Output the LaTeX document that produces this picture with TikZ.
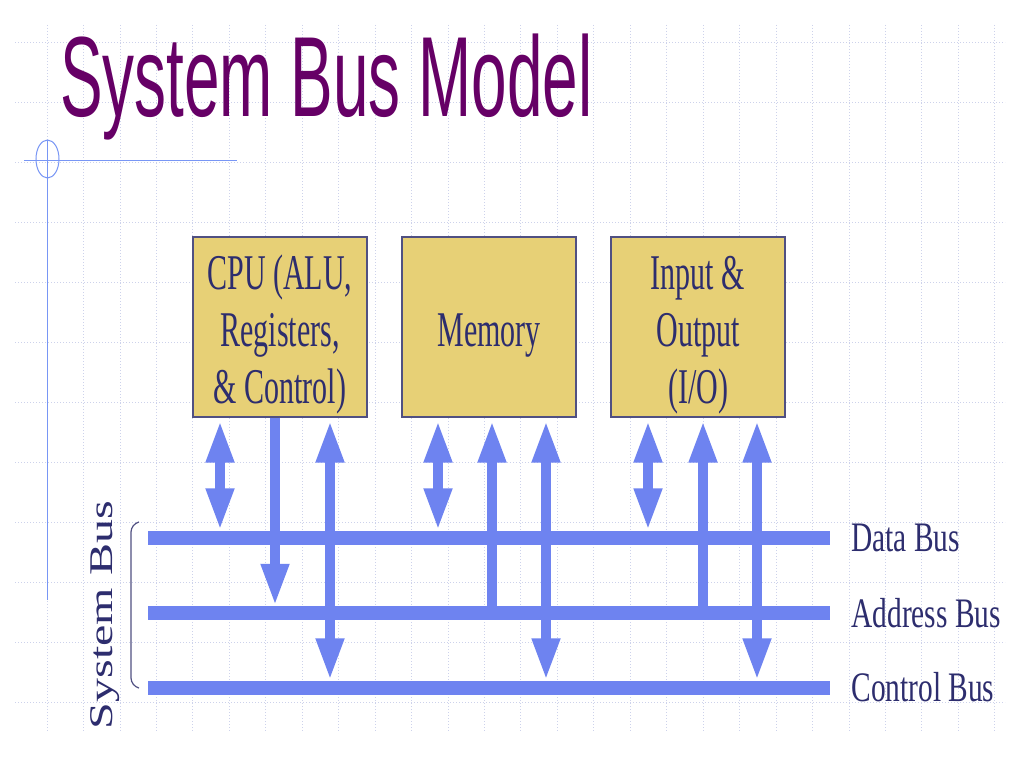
\documentclass[tikz,border=0pt]{standalone}
\usepackage{fontspec}
\usepackage{graphicx}
\usetikzlibrary{arrows.meta,positioning,calc}
\newfontfamily\titlefont[FakeStretch=0.56]{Liberation Sans}
\newfontfamily\boxfont[FakeStretch=0.60]{Liberation Serif}
\newfontfamily\busfont[FakeStretch=0.70]{Liberation Serif}
\newfontfamily\sidefont{Liberation Serif}
\definecolor{titlec}{RGB}{102,0,102}
\definecolor{boxfill}{RGB}{231,208,118}
\definecolor{boxline}{RGB}{80,80,130}
\definecolor{txtc}{RGB}{45,45,110}
\definecolor{busc}{RGB}{110,131,240}
\definecolor{decoc}{RGB}{120,150,245}
\definecolor{gridc}{RGB}{205,210,235}
\newcommand\unitlines[1]{\raisebox{-8pt}[\height][\depth]{\begin{tabular}{@{}c@{}}#1\end{tabular}}}

\begin{document}
\begin{tikzpicture}[
    x=1pt, y=-1pt,
    unit/.style={rectangle,draw=boxline,line width=1.2pt,fill=boxfill,minimum width=174pt,minimum height=180pt,
      align=center,text=txtc,inner sep=0pt,font=\boxfont\fontsize{50}{57}\selectfont},
    bus/.style={rectangle,fill=busc,inner sep=0pt,minimum width=682pt,minimum height=14pt},
    buslabel/.style={anchor=west,inner sep=0pt,text=txtc,font=\busfont\fontsize{42}{48}\selectfont},
    gridline/.style={draw=gridc,line width=0.8pt,dash pattern=on 1pt off 2pt},
    tip/.tip={Triangle[length=42pt,width=26pt]},
    link/.style={draw=busc,line width=10pt},
  ]
  \fill[white] (0,0) rectangle (1024,768);
  \useasboundingbox (0,0) rectangle (1024,768);

  % slide background grid
  \foreach \k in {0,...,26}
    \draw[gridline] (47+36.45*\k,25) -- (47+36.45*\k,732);
  \foreach \k in {0,...,11}
    \draw[gridline] (15,42+60*\k) -- (1005,42+60*\k);

  % slide decoration
  \draw[decoc,line width=1.5pt] (24,160.5) -- (237,160.5);
  \draw[decoc,line width=1.2pt] (47.5,140) -- (47.5,600);
  \draw[decoc,line width=1pt] (47.5,159) ellipse [x radius=11.5, y radius=19];

  \node[anchor=base west,inner sep=0pt,text=titlec,font=\titlefont\fontsize{114}{130}\selectfont] (title) at (60,116) {System Bus Model};

  % units
  \node[unit] (cpu) at (280,327) {\unitlines{CPU (ALU,\\Registers,\\\& Control)}};
  \node[unit] (mem) at (489,327) {\unitlines{Memory}};
  \node[unit] (io)  at (698,327) {\unitlines{Input \&\\Output\\(I/O)}};

  % buses
  \node[bus] (dbus) at (489,537.5) {};
  \node[bus] (abus) at (489,613) {};
  \node[bus] (cbus) at (489,687.5) {};
  \node[buslabel,right=21pt of dbus] (dlab) {Data Bus};
  \node[buslabel,right=21pt of abus] (alab) {Address Bus};
  \node[buslabel,right=21pt of cbus] (clab) {Control Bus};

  % system bus brace
  \draw[boxline,line width=1.2pt,rounded corners=8pt] (139,522) -- (131,524) -- (131,686) -- (139,688);
  \node[rotate=90,anchor=base,inner sep=0pt,text=txtc,font=\sidefont\fontsize{48}{54}\selectfont] (sysbus) at (112,615)
    {\scalebox{1}[0.69]{System Bus}};

  % CPU links
  \draw[link,tip-tip] ([xshift=-60pt,yshift=-3pt]cpu.south) -- ([xshift=-60pt]cpu.south |- dbus.north);
  \draw[link,-tip] ([xshift=-5pt]cpu.south) -- ([xshift=-5pt]cpu.south |- abus.north);
  \draw[link,tip-tip] ([xshift=50pt,yshift=-3pt]cpu.south) -- ([xshift=50pt]cpu.south |- cbus.north);
  % memory links
  \draw[link,tip-tip] ([xshift=-51pt,yshift=-3pt]mem.south) -- ([xshift=-51pt]mem.south |- dbus.north);
  \draw[link,-tip] ([xshift=3pt]mem.south |- abus.center) -- ([xshift=3pt,yshift=-3pt]mem.south);
  \draw[link,tip-tip] ([xshift=57pt,yshift=-3pt]mem.south) -- ([xshift=57pt]mem.south |- cbus.north);
  % I/O links
  \draw[link,tip-tip] ([xshift=-50pt,yshift=-3pt]io.south) -- ([xshift=-50pt]io.south |- dbus.north);
  \draw[link,-tip] ([xshift=5pt]io.south |- abus.center) -- ([xshift=5pt,yshift=-3pt]io.south);
  \draw[link,tip-tip] ([xshift=59pt,yshift=-3pt]io.south) -- ([xshift=59pt]io.south |- cbus.north);
\end{tikzpicture}
\end{document}
